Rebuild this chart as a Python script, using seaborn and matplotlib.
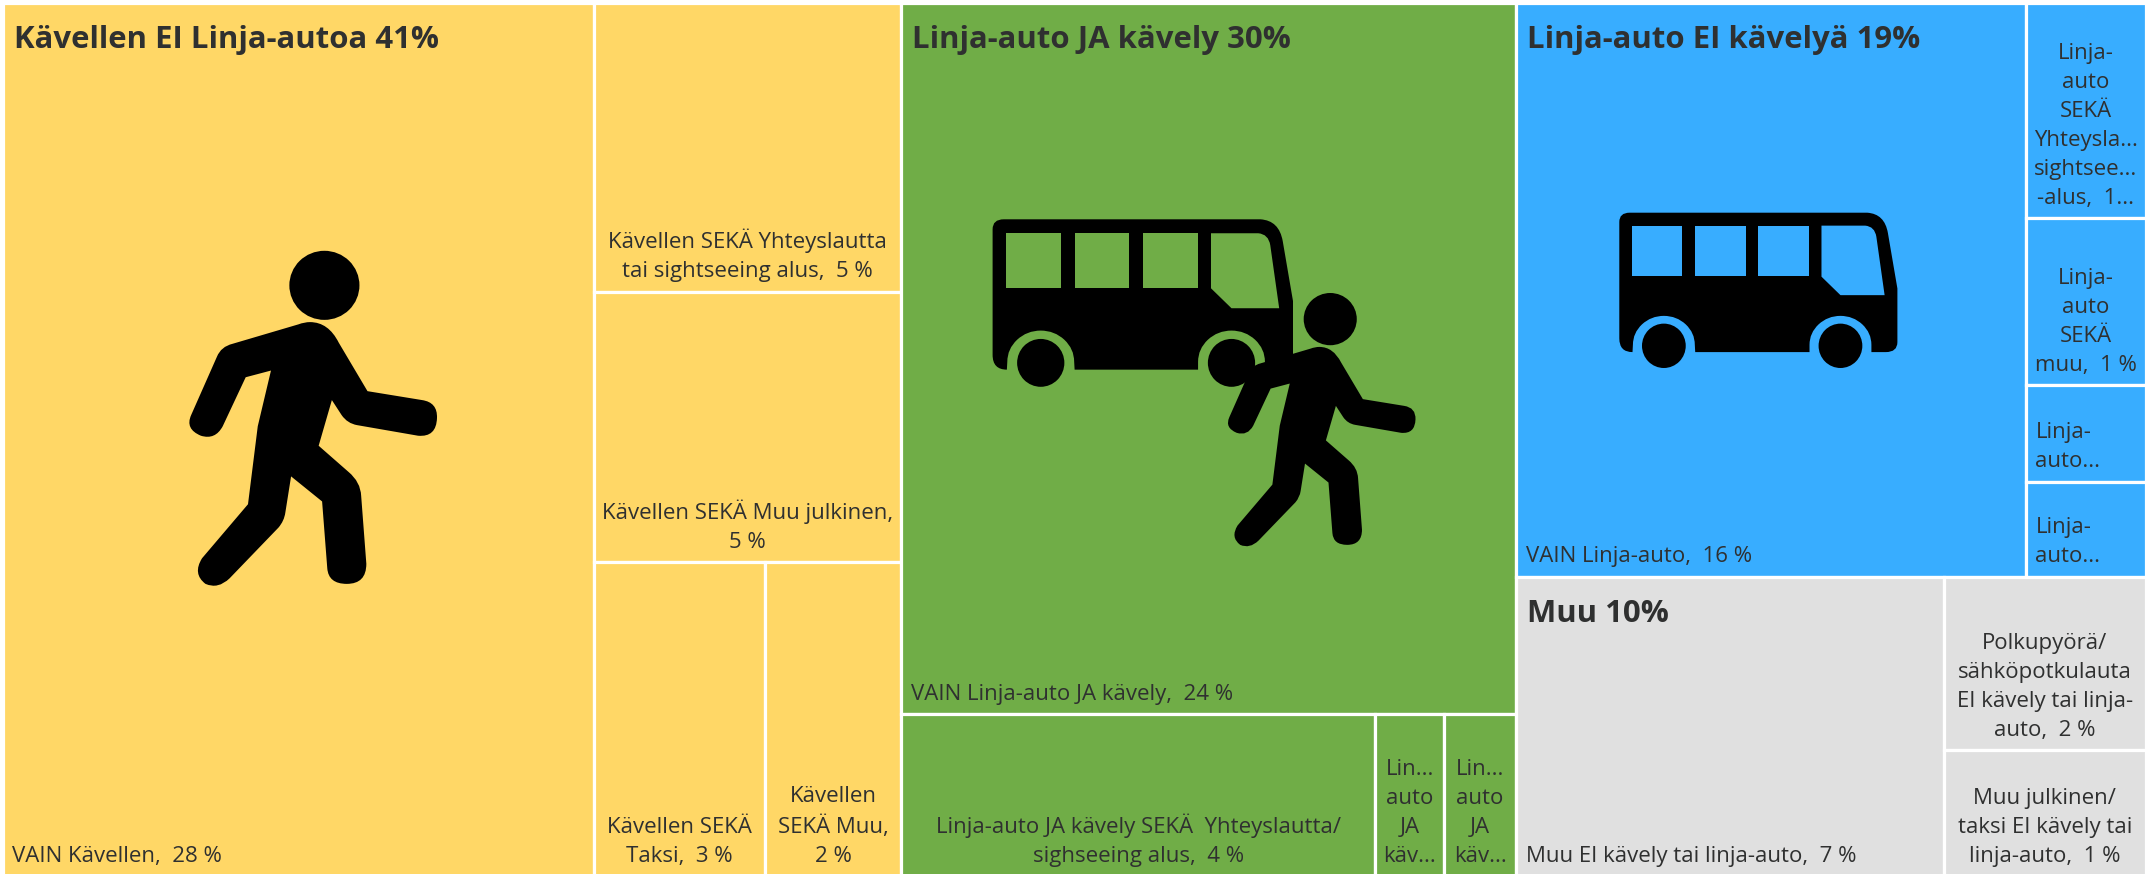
import numpy as np
import pandas as pd
import seaborn as sns
import matplotlib.pyplot as plt
from matplotlib.path import Path
from matplotlib.patches import PathPatch, Ellipse

# ryhmien otsikot
group_titles = ['Kävellen EI Linja-autoa 41%', 'Linja-auto JA kävely 30%',
                'Linja-auto EI kävelyä 19%', 'Muu 10%']

# solut ryhmittäin, koot luettu kuvasta pinta-aloina
walk_labels = ['VAIN Kävellen,  28 %', 'Kävellen SEKÄ Yhteyslautta\ntai sightseeing alus,  5 %',
               'Kävellen SEKÄ Muu julkinen,\n5 %', 'Kävellen SEKÄ\nTaksi,  3 %',
               'Kävellen\nSEKÄ Muu,\n2 %']
walk_sizes = [27.56, 4.75, 4.43, 2.88, 2.28]

walkbus_labels = ['VAIN Linja-auto JA kävely,  24 %',
                  'Linja-auto JA kävely SEKÄ  Yhteyslautta/\nsighseeing alus,  4 %',
                  'Lin...\nauto\nJA\nkäv...', 'Lin...\nauto\nJA\nkäv...']
walkbus_sizes = [23.32, 4.11, 0.60, 0.62]

bus_labels = ['VAIN Linja-auto,  16 %',
              'Linja-\nauto\nSEKÄ\nYhteysla...\nsightsee...\n-alus,  1...',
              'Linja-\nauto\nSEKÄ\nmuu,  1 %', 'Linja-\nauto...', 'Linja-\nauto...']
bus_sizes = [15.60, 1.385, 1.07, 0.62, 0.606]

other_labels = ['Muu EI kävely tai linja-auto,  7 %',
                'Polkupyörä/\nsähköpotkulauta\nEI kävely tai linja-\nauto,  2 %',
                'Muu julkinen/\ntaksi EI kävely tai\nlinja-auto,  1 %']
other_sizes = [6.85, 1.876, 1.366]

# nämä tasataan vasemmalle, muut keskelle
left_labels = ['VAIN Kävellen,  28 %', 'VAIN Linja-auto JA kävely,  24 %', 'VAIN Linja-auto,  16 %',
               'Muu EI kävely tai linja-auto,  7 %', 'Linja-\nauto...']

cells = pd.DataFrame({
    'label': walk_labels + walkbus_labels + bus_labels + other_labels,
    'size': walk_sizes + walkbus_sizes + bus_sizes + other_sizes,
    'group': [0] * 5 + [1] * 4 + [2] * 5 + [3] * 3,
})

# treemapin jako: 'h' = vierekkäin, 'v' = päällekkäin, numero = solun rivi
tree = ('h',
        ('h', 0, ('v', 1, 2, ('h', 3, 4))),
        ('v', 5, ('h', 6, 7, 8)),
        ('v',
         ('h', 9, ('v', 10, 11, 12, 13)),
         ('h', 14, ('v', 15, 16))))


def node_size(node):
    if isinstance(node, int):
        return cells['size'].iloc[node]
    return sum(node_size(c) for c in node[1:])


def place(node, x, y, w, h, out):
    if isinstance(node, int):
        out[node] = (x, y, w, h)
        return
    total = node_size(node)
    for child in node[1:]:
        part = node_size(child) / total
        if node[0] == 'h':
            place(child, x, y, w * part, h, out)
            x += w * part
        else:
            place(child, x, y, w, h * part, out)
            y += h * part


total = cells['size'].sum()
rects = {}
place(tree, 0, 0, total, total, rects)
cells[['x', 'y', 'w', 'h']] = pd.DataFrame.from_dict(rects, orient='index').sort_index().values

sns.set_theme(style='white')
plt.rcParams['font.family'] = ['Open Sans', 'DejaVu Sans']
palette = sns.color_palette(['#FFD766', '#70AD47', '#38ADFF', '#E0E0E0'])
text_color = '#2F3030'

W, H = 2147, 874
fig = plt.figure(figsize=(W / 100, H / 100), dpi=100)
ax = fig.add_axes([2.5 / W, -3 / H, (W - 3.5) / W, (H - 2.5 + 3) / H])

ax.bar(cells['x'], cells['h'], width=cells['w'], bottom=cells['y'], align='edge',
       color=[palette[g] for g in cells['group']], edgecolor='white', linewidth=2.3)
ax.set_xlim(0, total)
ax.set_ylim(total, 0)
ax.set_xticks([])
ax.set_yticks([])
sns.despine(ax=ax, left=True, bottom=True)

for _, c in cells.iterrows():
    if c['label'] in left_labels:
        xy, off, ha = (c['x'], c['y'] + c['h']), (7, 7), 'left'
    else:
        xy, off, ha = (c['x'] + c['w'] / 2, c['y'] + c['h']), (0, 7), 'center'
    ax.annotate(c['label'], xy=xy, xytext=off, textcoords='offset points', ha=ha, va='bottom',
                multialignment=ha, fontsize=16, color=text_color, linespacing=1.5)

for g, title in enumerate(group_titles):
    part = cells[cells['group'] == g]
    ax.annotate(title, xy=(part['x'].min(), part['y'].min()), xytext=(8, -27),
                textcoords='offset points', ha='left', va='center', fontsize=22.4,
                fontweight='bold', color=text_color)

# kuvakkeet omalle pikseliakselille
icons = fig.add_axes([0, 0, 1, 1])
icons.set_xlim(0, W)
icons.set_ylim(H, 0)
icons.axis('off')
icons.patch.set_alpha(0)

# ääriviivat: (x, y) on suora, (x, y, 1) on käyräpiste
walker = [(540, 578), (572, 578, 1), (590, 615), (640, 702), (735, 718), (762, 722, 1), (761, 750),
          (760, 785, 1), (728, 782), (622, 763), (605, 760, 1), (595, 745), (578, 718), (555, 800),
          (607, 847), (628, 865, 1), (629, 890), (638, 1012), (638, 1048, 1), (604, 1048),
          (572, 1048, 1), (570, 1020), (561, 900), (507, 855), (497, 920), (495, 935, 1), (485, 947),
          (400, 1038), (380, 1058, 1), (358, 1048), (335, 1030, 1), (352, 1002), (432, 905),
          (449, 765), (472, 665), (428, 677), (388, 765), (375, 790, 1), (350, 782), (322, 770, 1),
          (333, 745), (378, 640), (385, 622, 1), (405, 617), (520, 582), (530, 578, 1), (540, 578)]
walker_box = (330, 450, 761, 1050)

bus = [(314, 575), (890, 575), (932, 578, 1), (940, 630), (963, 780), (963, 925), (963, 952, 1),
       (935, 952), (900, 952), (900, 932), (900, 900, 1), (878, 877), (856, 854, 1), (825, 854),
       (794, 854, 1), (772, 877), (750, 900, 1), (750, 932), (750, 952), (473, 952), (472, 932),
       (472, 900, 1), (450, 877), (428, 854, 1), (397, 854), (366, 854, 1), (344, 877), (322, 900, 1),
       (322, 932), (321, 952), (289, 952, 1), (289, 915), (289, 600), (289, 575, 1), (314, 575)]
bus_windows = [
    [(320, 610), (442, 610), (442, 747), (320, 747), (320, 610)],
    [(473, 610), (596, 610), (596, 747), (473, 747), (473, 610)],
    [(626, 610), (749, 610), (749, 747), (626, 747), (626, 610)],
    [(779, 610), (885, 610), (908, 612, 1), (912, 640), (932, 798), (825, 798), (779, 748), (779, 610)],
]
bus_box = (289, 575, 963, 995)


def to_path(points, box, target):
    sx = (target[2] - target[0]) / (box[2] - box[0])
    sy = (target[3] - target[1]) / (box[3] - box[1])
    verts, codes = [], []
    for i, p in enumerate(points):
        verts.append((target[0] + (p[0] - box[0]) * sx, target[1] + (p[1] - box[1]) * sy))
        if i == 0:
            codes.append(Path.MOVETO)
        elif len(p) == 3 or len(points[i - 1]) == 3:
            codes.append(Path.CURVE3)
        else:
            codes.append(Path.LINETO)
    return Path(verts, codes), sx, sy


def draw_walker(target):
    path, sx, sy = to_path(walker, walker_box, target)
    icons.add_patch(PathPatch(path, facecolor='black', edgecolor='none'))
    cx = target[0] + (565 - walker_box[0]) * sx
    cy = target[1] + (512 - walker_box[1]) * sy
    icons.add_patch(Ellipse((cx, cy), 122 * sx, 124 * sy, facecolor='black', edgecolor='none'))


def draw_bus(target, bg):
    path, sx, sy = to_path(bus, bus_box, target)
    icons.add_patch(PathPatch(path, facecolor='black', edgecolor='none'))
    for win in bus_windows:
        icons.add_patch(PathPatch(to_path(win, bus_box, target)[0], facecolor=bg, edgecolor='none'))
    for wx in (397, 825):
        cx = target[0] + (wx - bus_box[0]) * sx
        cy = target[1] + (935 - bus_box[1]) * sy
        icons.add_patch(Ellipse((cx, cy), 106 * sx, 120 * sy, facecolor='black', edgecolor='none'))


draw_walker((189.4, 250.8, 437, 585))
draw_bus((992.6, 219.3, 1293, 386.8), palette[1])
draw_walker((1228, 293, 1415.5, 545.7))
draw_bus((1619.3, 212.7, 1897.4, 368), palette[2])

plt.savefig('out.png', dpi=100)
